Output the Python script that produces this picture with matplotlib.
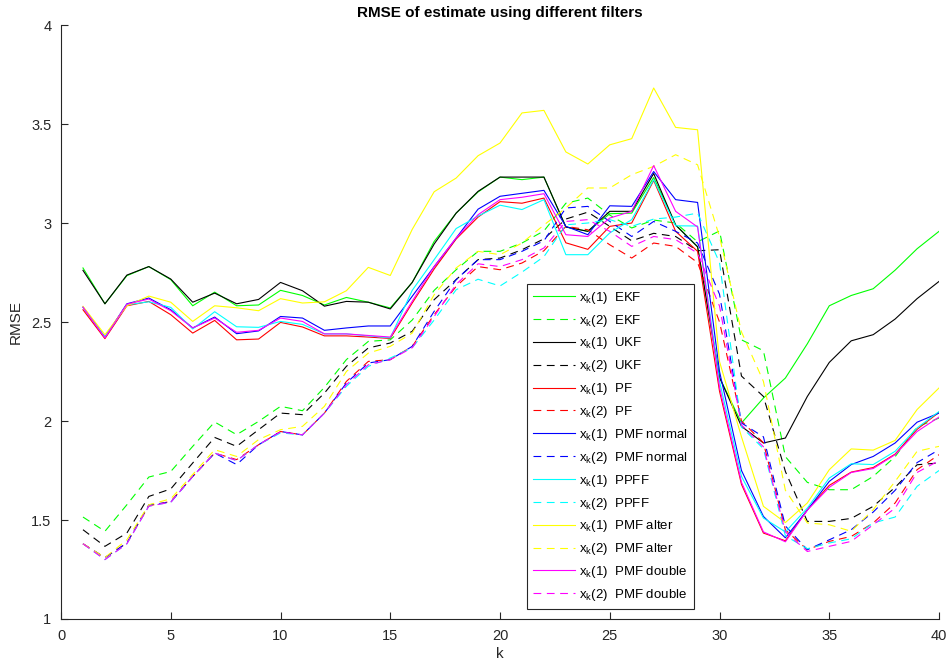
import numpy as np
import matplotlib
matplotlib.use('Agg')
import matplotlib.pyplot as plt

plt.rcParams['font.family'] = ['Liberation Sans', 'DejaVu Sans']
plt.rcParams['mathtext.fontset'] = 'custom'
plt.rcParams['mathtext.rm'] = 'Liberation Sans'
plt.rcParams['mathtext.it'] = 'Liberation Sans'

#####################################################################
# RMSE per time step for each filter, state 1 and state 2
#####################################################################
k = np.arange(1, 41)

ekf_x1 = [2.773, 2.592, 2.734, 2.78, 2.714, 2.582, 2.651, 2.582, 2.586, 2.66,
          2.634, 2.586, 2.624, 2.60, 2.571, 2.70, 2.907, 3.05, 3.157, 3.232,
          3.219, 3.232, 2.98, 2.958, 3.047, 3.05, 3.23, 2.99, 2.88, 2.22,
          1.99, 2.116, 2.217, 2.39, 2.582, 2.634, 2.668, 2.762, 2.87, 2.958]
ekf_x2 = [1.515, 1.443, 1.577, 1.717, 1.745, 1.872, 1.995, 1.931, 1.998, 2.074,
          2.052, 2.17, 2.31, 2.402, 2.41, 2.51, 2.66, 2.764, 2.857, 2.857,
          2.899, 2.96, 3.10, 3.126, 3.04, 2.975, 3.015, 3.0, 2.905, 2.96,
          2.41, 2.355, 1.82, 1.69, 1.653, 1.653, 1.72, 1.82, 1.97, 2.015]
ukf_x1 = [2.761, 2.592, 2.737, 2.78, 2.717, 2.60, 2.646, 2.592, 2.614, 2.70,
          2.658, 2.58, 2.604, 2.60, 2.566, 2.70, 2.894, 3.05, 3.16, 3.232,
          3.232, 3.232, 2.98, 2.958, 3.059, 3.059, 3.25, 2.99, 2.88, 2.22,
          1.973, 1.889, 1.914, 2.124, 2.296, 2.405, 2.436, 2.515, 2.618, 2.705]
ukf_x2 = [1.451, 1.367, 1.434, 1.619, 1.657, 1.788, 1.917, 1.872, 1.956, 2.04,
          2.032, 2.141, 2.276, 2.369, 2.394, 2.453, 2.613, 2.714, 2.815, 2.823,
          2.865, 2.92, 3.02, 3.055, 2.983, 2.91, 2.948, 2.932, 2.86, 2.865,
          2.227, 2.124, 1.745, 1.493, 1.493, 1.508, 1.569, 1.665, 1.779, 1.788]
pf_x1 = [2.562, 2.416, 2.582, 2.604, 2.537, 2.444, 2.508, 2.41, 2.414, 2.498,
         2.475, 2.43, 2.43, 2.424, 2.417, 2.596, 2.768, 2.919, 3.03, 3.108,
         3.10, 3.126, 2.90, 2.867, 2.983, 3.0, 3.215, 2.958, 2.857, 2.15,
         1.68, 1.434, 1.395, 1.552, 1.675, 1.742, 1.765, 1.833, 1.958, 2.044]
pf_x2 = [1.38, 1.31, 1.384, 1.572, 1.594, 1.72, 1.838, 1.805, 1.88, 1.947,
         1.93, 2.04, 2.2, 2.301, 2.31, 2.377, 2.537, 2.68, 2.78, 2.764,
         2.798, 2.86, 2.983, 2.966, 2.89, 2.823, 2.899, 2.882, 2.80, 2.5,
         2.0, 1.89, 1.45, 1.35, 1.392, 1.417, 1.485, 1.586, 1.754, 1.83]
pmf_x1 = [2.575, 2.424, 2.592, 2.621, 2.562, 2.47, 2.525, 2.441, 2.455, 2.528,
          2.52, 2.458, 2.47, 2.48, 2.48, 2.63, 2.78, 2.924, 3.07, 3.135,
          3.15, 3.165, 2.983, 2.941, 3.087, 3.084, 3.26, 3.118, 3.104, 2.25,
          1.75, 1.518, 1.41, 1.55, 1.695, 1.78, 1.821, 1.889, 1.994, 2.04]
pmf_x2 = [1.38, 1.31, 1.384, 1.577, 1.59, 1.72, 1.838, 1.78, 1.88, 1.947,
          1.93, 2.04, 2.192, 2.293, 2.31, 2.377, 2.554, 2.714, 2.815, 2.815,
          2.857, 2.91, 3.076, 3.084, 3.008, 2.932, 3.008, 2.958, 2.899, 2.64,
          1.99, 1.92, 1.47, 1.35, 1.40, 1.451, 1.54, 1.65, 1.79, 1.855]
ppff_x1 = [2.575, 2.424, 2.587, 2.602, 2.574, 2.465, 2.552, 2.476, 2.473, 2.503,
           2.488, 2.44, 2.44, 2.43, 2.42, 2.66, 2.815, 2.972, 3.035, 3.09,
           3.068, 3.118, 2.84, 2.84, 2.95, 3.017, 3.219, 2.986, 2.985, 2.2,
           1.72, 1.51, 1.44, 1.56, 1.712, 1.784, 1.78, 1.847, 1.965, 2.048]
ppff_x2 = [1.38, 1.30, 1.38, 1.57, 1.59, 1.72, 1.838, 1.80, 1.88, 1.94,
           1.93, 2.04, 2.175, 2.276, 2.318, 2.37, 2.51, 2.663, 2.716, 2.682,
           2.752, 2.83, 2.991, 3.0, 3.017, 2.983, 3.02, 3.03, 3.05, 2.8,
           1.97, 1.86, 1.42, 1.355, 1.384, 1.405, 1.485, 1.515, 1.67, 1.75]
alter_x1 = [2.579, 2.436, 2.582, 2.631, 2.60, 2.503, 2.582, 2.572, 2.557, 2.618,
            2.596, 2.602, 2.658, 2.776, 2.735, 2.968, 3.158, 3.227, 3.34, 3.404,
            3.556, 3.569, 3.359, 3.298, 3.395, 3.426, 3.682, 3.483, 3.471, 2.3,
            1.92, 1.569, 1.487, 1.586, 1.754, 1.859, 1.853, 1.902, 2.058, 2.167]
alter_x2 = [1.38, 1.31, 1.40, 1.577, 1.607, 1.73, 1.855, 1.821, 1.906, 1.956,
            1.973, 2.074, 2.25, 2.343, 2.377, 2.444, 2.638, 2.773, 2.857, 2.84,
            2.899, 2.99, 3.076, 3.177, 3.177, 3.244, 3.286, 3.345, 3.294, 2.93,
            2.45, 2.2, 1.65, 1.485, 1.476, 1.443, 1.552, 1.695, 1.847, 1.872]
double_x1 = [2.575, 2.42, 2.59, 2.616, 2.557, 2.47, 2.52, 2.448, 2.458, 2.52,
             2.503, 2.44, 2.44, 2.432, 2.424, 2.605, 2.78, 2.924, 3.042, 3.118,
             3.13, 3.148, 2.941, 2.932, 3.025, 3.059, 3.29, 3.059, 2.98, 2.17,
             1.69, 1.44, 1.39, 1.55, 1.665, 1.74, 1.76, 1.83, 1.947, 2.02]
double_x2 = [1.38, 1.30, 1.38, 1.57, 1.59, 1.72, 1.838, 1.80, 1.88, 1.945,
             1.93, 2.04, 2.183, 2.284, 2.31, 2.37, 2.528, 2.69, 2.794, 2.78,
             2.815, 2.874, 3.008, 3.017, 2.958, 2.882, 2.932, 2.916, 2.848, 2.58,
             1.98, 1.87, 1.44, 1.341, 1.367, 1.392, 1.476, 1.56, 1.74, 1.80]

filters = ['EKF', 'UKF', 'PF', 'PMF normal', 'PPFF', 'PMF alter', 'PMF double']
colors = ['#00ff00', '#000000', '#ff0000', '#0000ff', '#00ffff', '#ffff00', '#ff00ff']
series = [(ekf_x1, ekf_x2), (ukf_x1, ukf_x2), (pf_x1, pf_x2), (pmf_x1, pmf_x2),
          (ppff_x1, ppff_x2), (alter_x1, alter_x2), (double_x1, double_x2)]

#####################################################################
# plotting
#####################################################################
fig = plt.figure(figsize=(9.49, 6.71), dpi=100)
ax = fig.add_axes([0.0643, 0.0775, 0.9252, 0.8852])

for name, c, (s1, s2) in zip(filters, colors, series):
    ax.plot(k, s1, color=c, lw=0.8, label=r'x$_\mathregular{k}$(1)  ' + name)
    ax.plot(k, s2, color=c, lw=0.8, linestyle=(0, (7, 5)),
            label=r'x$_\mathregular{k}$(2)  ' + name)

ax.set_xlim(0, 40)
ax.set_ylim(1, 4)
ax.set_xticks(np.arange(0, 41, 5))
ax.set_yticks(np.arange(1, 4.01, 0.5))
ax.set_yticklabels(['1', '1.5', '2', '2.5', '3', '3.5', '4'])
ax.spines['top'].set_visible(False)
ax.spines['right'].set_visible(False)
for sp in ['left', 'bottom']:
    ax.spines[sp].set_color('#262626')
    ax.spines[sp].set_linewidth(0.8)
ax.tick_params(direction='in', length=5, width=0.8, colors='#262626',
               labelsize=10.5, pad=7)
ax.set_xlabel('k', fontsize=11, color='#262626', labelpad=3)
ax.set_ylabel('RMSE', fontsize=11, color='#262626', labelpad=6)
ax.set_title('RMSE of estimate using different filters', fontsize=11,
             fontweight='bold', pad=6)

leg = ax.legend(loc='lower left', bbox_to_anchor=(0.531, 0.017), fontsize=9.5,
                fancybox=False, framealpha=1, edgecolor='#262626',
                handlelength=3.2, handletextpad=0.3, labelspacing=0.52,
                borderpad=0.45, borderaxespad=0)
leg.get_frame().set_linewidth(0.8)

plt.savefig('out.png', dpi=100)
plt.close()
